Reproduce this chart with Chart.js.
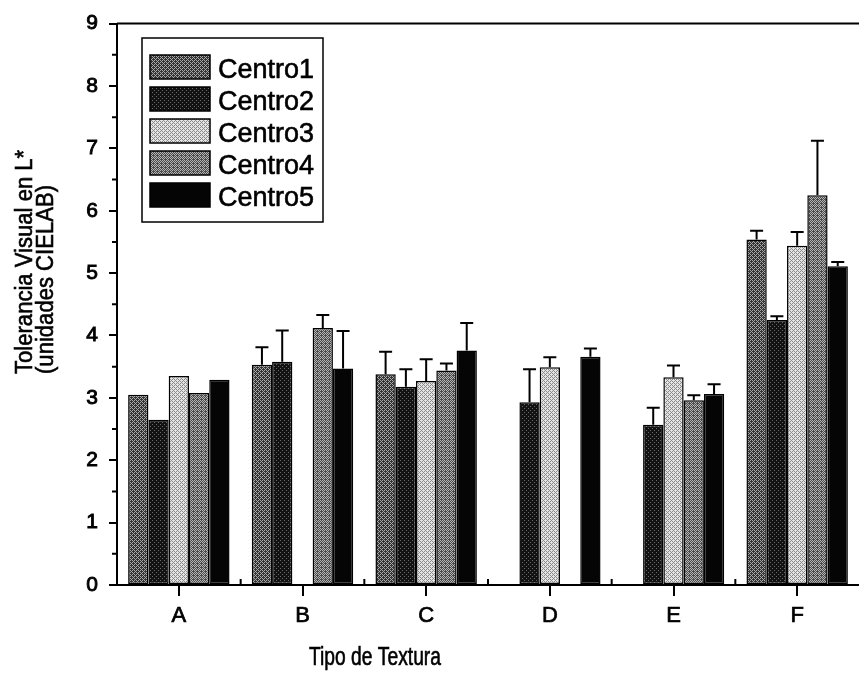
<!DOCTYPE html>
<html>
<head>
<meta charset="utf-8">
<script src="https://cdn.jsdelivr.net/npm/chart.js@4.4.1/dist/chart.umd.min.js"></script>
<style>
  html, body { margin: 0; padding: 0; background: #fff; }
  #wrap { width: 859px; height: 674px; position: relative; }
</style>
</head>
<body>
<div id="wrap"><canvas id="chart"></canvas></div>
<script>
// data
const categories = ['A', 'B', 'C', 'D', 'E', 'F'];
const seriesNames = ['Centro1', 'Centro2', 'Centro3', 'Centro4', 'Centro5'];

const centro1 = [3.05, 3.53, 3.38, null, null, 5.54];
const centro2 = [2.65, 3.58, 3.18, 2.93, 2.57, 4.25];
const centro3 = [3.35, null, 3.27, 3.49, 3.33, 5.44];
const centro4 = [3.08, 4.12, 3.44, null, 2.96, 6.25];
const centro5 = [3.29, 3.47, 3.76, 3.66, 3.06, 5.11];

// upper error (only the positive half is drawn in the figure)
const err1 = [0, 0.28, 0.36, 0, 0, 0.14];
const err2 = [0, 0.50, 0.28, 0.53, 0.27, 0.06];
const err3 = [0, 0, 0.35, 0.16, 0.19, 0.22];
const err4 = [0, 0.21, 0.11, 0, 0.08, 0.87];
const err5 = [0, 0.60, 0.44, 0.13, 0.16, 0.07];

const yMin = 0, yMax = 9;

const values = [centro1, centro2, centro3, centro4, centro5];
const errors = [err1, err2, err3, err4, err5];

// halftone fills, like the scanned print
const bayer = [[0, 8, 2, 10], [12, 4, 14, 6], [3, 11, 1, 9], [15, 7, 13, 5]];
function makePattern(dark, light, level) {
    const c = document.createElement('canvas');
    c.width = 4; c.height = 4;
    const g = c.getContext('2d');
    for (let y = 0; y < 4; y++) {
        for (let x = 0; x < 4; x++) {
            g.fillStyle = bayer[y][x] < level ? light : dark;
            g.fillRect(x, y, 1, 1);
        }
    }
    return g.createPattern(c, 'repeat');
}

const fills = [
    makePattern('#333333', '#a8a8a8', 6),
    makePattern('#121212', '#6a6a6a', 2),
    makePattern('#8a8a8a', '#e4e4e4', 10),
    makePattern('#4a4a4a', '#b4b4b4', 7),
    makePattern('#050505', '#050505', 0)
];

const FONT = "'Liberation Sans', Arial, Helvetica, sans-serif";

// scanned print has heavy strokes
function inkText(ctx, text, x, y) {
    ctx.fillText(text, x, y);
    ctx.strokeText(text, x, y);
}

const decorPlugin = {
    id: 'decor',
    afterDatasetsDraw(chart) {
        const ctx = chart.ctx;
        const yScale = chart.scales.y;
        ctx.save();
        ctx.strokeStyle = '#000';
        ctx.lineWidth = 2;
        chart.data.datasets.forEach((ds, i) => {
            const meta = chart.getDatasetMeta(i);
            meta.data.forEach((bar, j) => {
                const v = ds.data[j];
                const e = errors[i][j];
                if (v == null || !e) return;
                const yTop = yScale.getPixelForValue(v + e);
                ctx.beginPath();
                ctx.moveTo(bar.x, bar.y);
                ctx.lineTo(bar.x, yTop);
                ctx.moveTo(bar.x - 6.5, yTop);
                ctx.lineTo(bar.x + 6.5, yTop);
                ctx.stroke();
            });
        });
        ctx.restore();
    },
    afterDraw(chart) {
        const ctx = chart.ctx;
        const area = chart.chartArea;
        const x = chart.scales.x;
        const y = chart.scales.y;
        ctx.save();
        ctx.strokeStyle = '#000';
        ctx.lineWidth = 2;

        // top frame line
        ctx.beginPath();
        ctx.moveTo(area.left, area.top);
        ctx.lineTo(chart.width, area.top);
        ctx.stroke();

        // minor ticks on y (outside)
        ctx.beginPath();
        for (let v = yMin + 0.5; v < yMax; v += 1) {
            const py = y.getPixelForValue(v);
            ctx.moveTo(area.left - 5, py);
            ctx.lineTo(area.left, py);
        }
        // minor ticks on x at group boundaries (inside)
        for (let i = 0; i < categories.length - 1; i++) {
            const px = (x.getPixelForValue(i) + x.getPixelForValue(i + 1)) / 2;
            ctx.moveTo(px, area.bottom);
            ctx.lineTo(px, area.bottom - 6);
        }
        ctx.stroke();

        // legend box
        ctx.lineWidth = 1.5;
        ctx.strokeRect(142, 38, 181, 184);
        ctx.font = '27px ' + FONT;
        ctx.textBaseline = 'alphabetic';
        chart.data.datasets.forEach((ds, i) => {
            const top = 55 + i * 32;
            ctx.fillStyle = ds.backgroundColor;
            ctx.lineWidth = 1.5;
            ctx.fillRect(150, top, 60, 24);
            ctx.strokeRect(150, top, 60, 24);
            ctx.fillStyle = '#000';
            ctx.lineWidth = 0.6;
            inkText(ctx, ds.label, 218, top + 23);
        });

        ctx.fillStyle = '#000';
        ctx.lineWidth = 0.6;

        // y axis title (two lines, start-aligned at the bottom)
        ctx.font = '23px ' + FONT;
        ctx.save();
        ctx.translate(32, 374);
        ctx.rotate(-Math.PI / 2);
        ctx.textAlign = 'left';
        ctx.scale(0.96, 1);
        inkText(ctx, 'Tolerancia Visual en L*', 0, 0);
        inkText(ctx, '(unidades CIELAB)', 0, 21);
        ctx.restore();

        // x axis title (print is a bit condensed)
        ctx.save();
        ctx.font = '25px ' + FONT;
        ctx.translate(375, 665);
        ctx.scale(0.77, 1);
        ctx.textAlign = 'center';
        inkText(ctx, 'Tipo de Textura', 0, 0);
        ctx.restore();

        ctx.restore();
    }
};

new Chart(document.getElementById('chart'), {
    type: 'bar',
    data: {
        labels: categories,
        datasets: seriesNames.map((name, i) => ({
            label: name,
            data: values[i],
            backgroundColor: fills[i],
            borderColor: '#000',
            borderWidth: 1.5,
            borderSkipped: false,
            categoryPercentage: 0.82,
            barPercentage: 1.0
        }))
    },
    options: {
        responsive: true,
        maintainAspectRatio: false,
        animation: false,
        layout: { padding: { top: 18, right: -4, left: 0, bottom: 0 } },
        plugins: {
            legend: { display: false },
            tooltip: { enabled: false },
            title: { display: false }
        },
        scales: {
            x: {
                offset: true,
                grid: {
                    offset: false,
                    drawOnChartArea: false,
                    drawTicks: true,
                    tickLength: 11,
                    color: '#000',
                    lineWidth: 2
                },
                border: { display: true, color: '#000', width: 2 },
                ticks: {
                    color: '#000', font: { size: 22, family: FONT }, padding: 7,
                    textStrokeColor: '#000', textStrokeWidth: 0.7
                },
                afterFit(scale) { scale.height = 674 - 585; }
            },
            y: {
                min: yMin,
                max: yMax,
                grid: {
                    drawOnChartArea: false,
                    drawTicks: true,
                    tickLength: 8,
                    color: '#000',
                    lineWidth: 2
                },
                border: { display: true, color: '#000', width: 2 },
                ticks: {
                    stepSize: 1, color: '#000', font: { size: 21, family: FONT }, padding: 11,
                    textStrokeColor: '#000', textStrokeWidth: 0.9
                },
                afterFit(scale) { scale.width = 117; }
            }
        }
    },
    plugins: [decorPlugin]
});
</script>
</body>
</html>
